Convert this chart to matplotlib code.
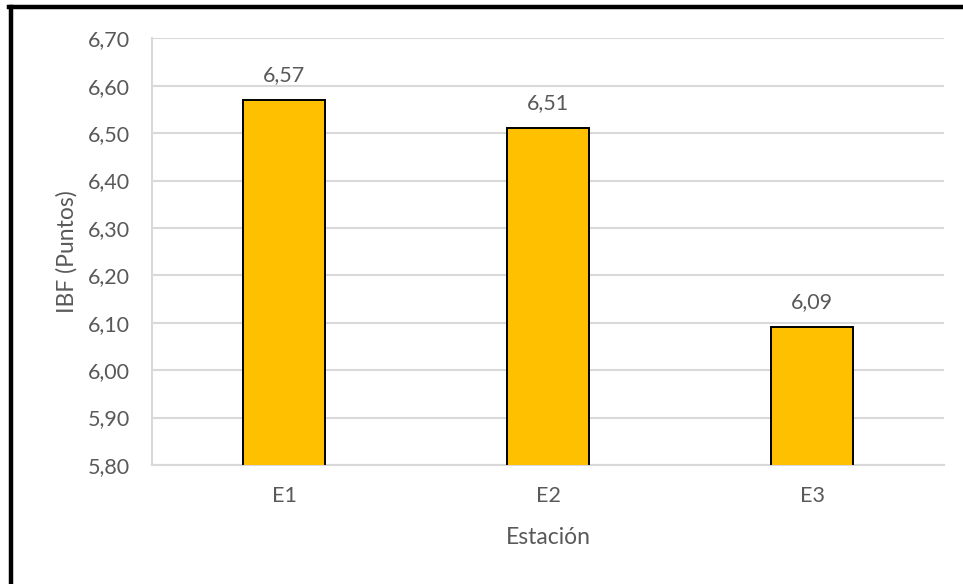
import matplotlib.pyplot as plt
import numpy as np
from matplotlib.ticker import FuncFormatter

estaciones = ['E1', 'E2', 'E3']
ibf = [6.57, 6.51, 6.09]
y_ticks = [5.80, 5.90, 6.00, 6.10, 6.20, 6.30, 6.40, 6.50, 6.60, 6.70]

plt.rcParams['font.family'] = ['Lato', 'DejaVu Sans']
text_color = '#595959'
grid_color = '#D9D9D9'

fig = plt.figure(figsize=(9.63, 5.84), dpi=100)
ax = fig.add_axes([0.1578, 0.2038, 0.8225, 0.7306])

x = np.arange(len(estaciones))
bars = ax.bar(x, ibf, width=0.313, bottom=0, color='#FFC000',
              edgecolor='black', linewidth=1.4, zorder=3)

# comma as decimal separator
coma = lambda v: f'{v:.2f}'.replace('.', ',')
for rect, v in zip(bars, ibf):
    ax.annotate(coma(v), (rect.get_x() + rect.get_width() / 2, v),
                xytext=(0, 11), textcoords='offset points',
                ha='center', va='bottom', fontsize=15.5, color=text_color)

ax.set_xlim(-0.5, 2.5)
ax.set_ylim(5.80, 6.70)
ax.set_yticks(y_ticks)
ax.yaxis.set_major_formatter(FuncFormatter(lambda v, p: coma(v)))
ax.set_xticks(x)
ax.set_xticklabels(estaciones)

ax.grid(axis='y', color=grid_color, linewidth=1.5, zorder=0)
for side in ['top', 'right']:
    ax.spines[side].set_visible(False)
for side in ['left', 'bottom']:
    ax.spines[side].set_color(grid_color)
    ax.spines[side].set_linewidth(1.5)
ax.tick_params(axis='both', length=0, labelsize=15.5, colors=text_color)
ax.tick_params(axis='y', pad=16)
ax.tick_params(axis='x', pad=15)

ax.set_xlabel('Estación', fontsize=16.5, color=text_color, labelpad=15)
ax.set_ylabel('IBF (Puntos)', fontsize=16.5, color=text_color, labelpad=7)

# black frame along the top and left edges
fig.add_artist(plt.Line2D([11 / 963, 11 / 963], [0, 1 - 7 / 584],
                          color='black', linewidth=3.2, transform=fig.transFigure))
fig.add_artist(plt.Line2D([9 / 963, 1], [1 - 7 / 584, 1 - 7 / 584],
                          color='black', linewidth=3.2, transform=fig.transFigure))

fig.savefig('out.png', dpi=100)
